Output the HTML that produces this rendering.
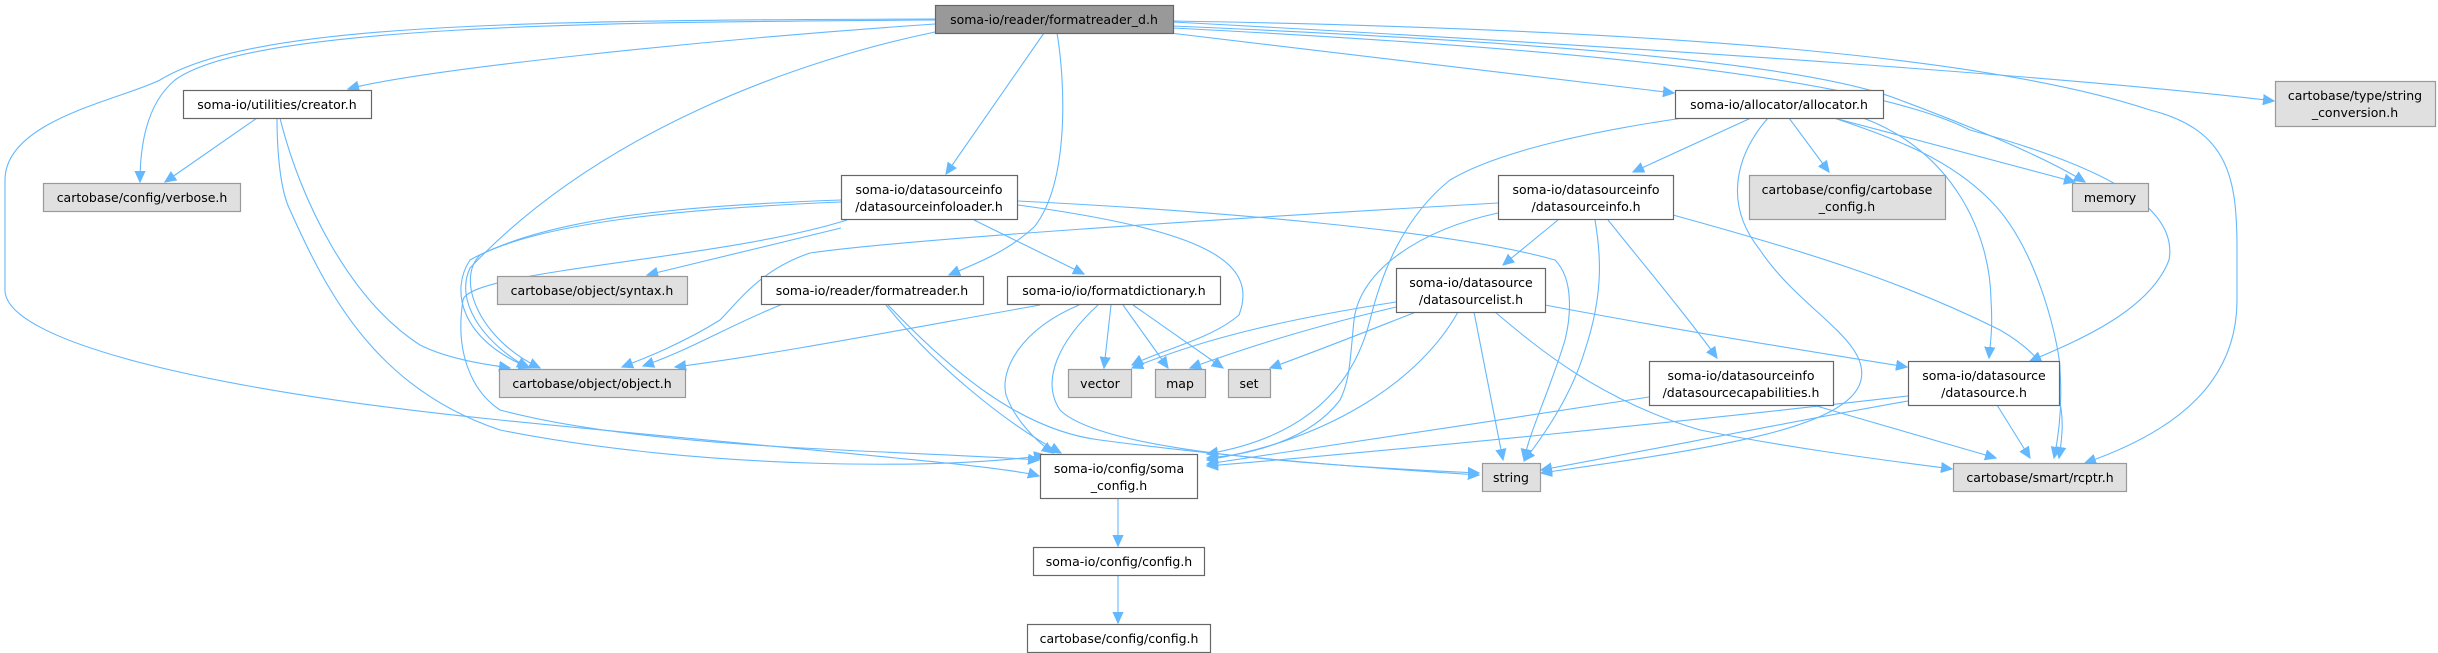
<!DOCTYPE html>
<html><head><meta charset="utf-8"><style>
html,body{margin:0;padding:0;background:#fff;}
svg{display:block;}
text{font-family:"DejaVu Sans","Liberation Sans",sans-serif;font-size:12.5px;fill:#000;text-anchor:middle;}
.w{fill:#fff;stroke:#666;stroke-width:1.2;}
.g{fill:#e0e0e0;stroke:#999;stroke-width:1.2;}
.t{fill:#999;stroke:#666;stroke-width:1.2;}
path{fill:none;stroke:#63b8ff;stroke-width:1.1;marker-end:url(#a);}
</style></head><body>
<svg width="2438" height="653" viewBox="0 0 2438 653" xmlns="http://www.w3.org/2000/svg">
<defs><marker id="a" markerUnits="userSpaceOnUse" markerWidth="12" markerHeight="12" viewBox="0 0 12 12" refX="11" refY="6" orient="auto"><path d="M0,1 L11,6 L0,11 Z" style="fill:#63b8ff;stroke:#63b8ff;marker-end:none"/></marker></defs>

<!-- edges from top node -->
<path d="M935,24 C700,40 420,70 348,89"/>
<path d="M935,20 C600,22 250,25 175,80 C145,105 140,150 140,182"/>
<path d="M935,19 C500,20 250,25 160,80 C120,100 5,120 5,180 L5,290 C5,340 200,390 500,420 C800,450 1000,465 1039,476"/>
<path d="M935,32 C800,60 600,130 470,268 C455,300 480,340 528,368"/>
<path d="M1044,33 L946,174"/>
<path d="M1057,33 C1065,80 1070,180 1035,226 C1010,250 980,262 949,275"/>
<path d="M1170,33 L1674,93"/>
<path d="M1173,22 C1700,50 2100,80 2274,101"/>
<path d="M1173,26 C1500,40 1800,60 1900,100 C1980,130 2050,160 2085,182"/>
<path d="M1173,28 C1500,45 1850,70 1970,130 C2080,160 2180,200 2169,260 C2150,310 2080,340 2030,361"/>
<path d="M1173,21 C1700,30 2000,60 2150,110 C2230,130 2237,180 2237,250 L2237,300 C2237,380 2180,430 2085,463"/>

<!-- creator -->
<path d="M257,118 L165,182"/>
<path d="M280,118 C300,200 350,300 420,345 C450,360 490,365 510,368"/>
<path d="M277,118 C277,150 280,190 290,210 C330,300 380,390 500,430 C700,470 950,470 1045,455"/>

<!-- datasourceinfoloader -->
<path d="M841,228 L647,275"/>
<path d="M841,200 C700,205 560,215 480,255 C455,280 480,340 540,368"/>
<path d="M841,202 C700,208 540,220 470,260 C450,290 460,340 530,368"/>
<path d="M847,220 C720,260 470,270 463,300 C455,350 470,390 500,410 C650,450 900,450 1039,460"/>
<path d="M974,220 L1084,274"/>
<path d="M1018,205 C1200,230 1260,260 1239,315 C1210,340 1160,350 1132,365"/>
<path d="M1018,201 C1200,210 1450,230 1555,260 C1575,280 1570,320 1565,340 C1550,390 1530,430 1524,460"/>

<!-- datasourceinfo.h -->
<path d="M1498,203 C1200,220 900,240 810,253 C760,270 740,300 720,320 C680,345 640,360 622,367"/>
<path d="M1558,220 L1503,265"/>
<path d="M1595,220 C1600,250 1605,290 1585,350 C1570,400 1540,440 1524,461"/>
<path d="M1608,220 C1640,260 1690,320 1717,358"/>
<path d="M1673,215 C1800,250 1900,280 2000,330 C2070,370 2065,420 2059,458"/>
<path d="M1498,213 C1420,230 1360,270 1354,320 C1350,360 1350,380 1340,400 C1310,440 1250,455 1207,458"/>

<!-- formatreader.h -->
<path d="M783,304 C730,325 690,350 643,366"/>
<path d="M886,305 C930,360 1000,420 1061,453"/>
<path d="M888,305 C950,370 1020,430 1100,440 C1250,460 1400,470 1479,475"/>

<!-- formatdictionary -->
<path d="M1040,305 C900,330 770,355 675,367"/>
<path d="M1111,305 L1104,368"/>
<path d="M1123,305 L1168,368"/>
<path d="M1133,305 L1223,368"/>
<path d="M1079,305 C1020,330 1000,370 1006,395 C1015,420 1035,440 1053,453"/>
<path d="M1098,305 C1060,340 1040,380 1060,410 C1100,450 1300,465 1479,473"/>

<!-- soma_config chain -->
<path d="M1118,498 L1118,546"/>
<path d="M1118,575 L1118,623"/>

<!-- datasourcelist -->
<path d="M1396,302 C1280,320 1200,340 1132,368"/>
<path d="M1396,307 C1300,330 1240,350 1190,368"/>
<path d="M1416,312 C1370,330 1320,350 1270,368"/>
<path d="M1458,312 C1420,380 1330,440 1207,460"/>
<path d="M1474,312 L1503,460"/>
<path d="M1495,312 C1540,350 1600,400 1700,430 C1800,450 1900,462 1952,469"/>
<path d="M1545,305 C1650,325 1800,350 1907,367"/>

<!-- allocator -->
<path d="M1683,118 C1600,130 1500,150 1450,180 C1400,220 1380,280 1370,320 C1350,400 1290,440 1207,454"/>
<path d="M1751,118 L1633,172"/>
<path d="M1789,118 L1829,172"/>
<path d="M1834,118 L2075,182"/>
<path d="M1863,118 C1950,150 1990,230 1991,300 C1993,330 1990,345 1989,358"/>
<path d="M1834,118 C1900,140 1950,160 1990,200 C2040,250 2060,350 2060,370 C2062,400 2060,430 2054,458"/>
<path d="M1768,118 C1740,150 1720,200 1760,250 C1800,310 1870,340 1861,380 C1850,430 1700,450 1541,473"/>

<!-- capabilities / datasource.h -->
<path d="M1649,397 C1500,420 1300,450 1207,464"/>
<path d="M1813,405 L1996,458"/>
<path d="M1997,405 L2030,458"/>
<path d="M1908,401 C1800,420 1650,450 1541,470"/>
<path d="M1908,396 C1700,420 1400,450 1207,466"/>

<!-- nodes -->
<rect class="t" x="935.5" y="5.5" width="238" height="28"/><text x="1054" y="24">soma-io/reader/formatreader_d.h</text>
<rect class="w" x="183.5" y="90.5" width="188" height="28"/><text x="277" y="109">soma-io/utilities/creator.h</text>
<rect class="g" x="43.5" y="183.5" width="197" height="28"/><text x="142" y="202">cartobase/config/verbose.h</text>
<rect class="w" x="841.5" y="175.5" width="176" height="44"/><text x="929" y="194">soma-io/datasourceinfo</text><text x="929" y="211">/datasourceinfoloader.h</text>
<rect class="g" x="497.5" y="276.5" width="190" height="28"/><text x="592" y="295">cartobase/object/syntax.h</text>
<rect class="w" x="761.5" y="276.5" width="222" height="28"/><text x="872" y="295">soma-io/reader/formatreader.h</text>
<rect class="w" x="1007.5" y="276.5" width="213" height="28"/><text x="1114" y="295">soma-io/io/formatdictionary.h</text>
<rect class="g" x="499.5" y="369.5" width="186" height="28"/><text x="592" y="388">cartobase/object/object.h</text>
<rect class="g" x="1068.5" y="369.5" width="63" height="28"/><text x="1100" y="388">vector</text>
<rect class="g" x="1155.5" y="369.5" width="50" height="28"/><text x="1180" y="388">map</text>
<rect class="g" x="1228.5" y="369.5" width="42" height="28"/><text x="1249" y="388">set</text>
<rect class="w" x="1040.5" y="454.5" width="157" height="44"/><text x="1119" y="473">soma-io/config/soma</text><text x="1119" y="490">_config.h</text>
<rect class="w" x="1033.5" y="547.5" width="171" height="28"/><text x="1119" y="566">soma-io/config/config.h</text>
<rect class="w" x="1027.5" y="624.5" width="183" height="28"/><text x="1119" y="643">cartobase/config/config.h</text>
<rect class="w" x="1396.5" y="268.5" width="149" height="44"/><text x="1471" y="287">soma-io/datasource</text><text x="1471" y="304">/datasourcelist.h</text>
<rect class="g" x="1482.5" y="463.5" width="58" height="28"/><text x="1511" y="482">string</text>
<rect class="w" x="1498.5" y="175.5" width="175" height="44"/><text x="1586" y="194">soma-io/datasourceinfo</text><text x="1586" y="211">/datasourceinfo.h</text>
<rect class="w" x="1675.5" y="90.5" width="208" height="28"/><text x="1779" y="109">soma-io/allocator/allocator.h</text>
<rect class="g" x="1749.5" y="175.5" width="196" height="44"/><text x="1847" y="194">cartobase/config/cartobase</text><text x="1847" y="211">_config.h</text>
<rect class="g" x="2072.5" y="183.5" width="76" height="28"/><text x="2110" y="202">memory</text>
<rect class="g" x="2275.5" y="81.5" width="160" height="45"/><text x="2355" y="100">cartobase/type/string</text><text x="2355" y="117">_conversion.h</text>
<rect class="w" x="1649.5" y="361.5" width="184" height="44"/><text x="1741" y="380">soma-io/datasourceinfo</text><text x="1741" y="397">/datasourcecapabilities.h</text>
<rect class="w" x="1908.5" y="361.5" width="151" height="44"/><text x="1984" y="380">soma-io/datasource</text><text x="1984" y="397">/datasource.h</text>
<rect class="g" x="1953.5" y="463.5" width="173" height="28"/><text x="2040" y="482">cartobase/smart/rcptr.h</text>
</svg>
</body></html>
